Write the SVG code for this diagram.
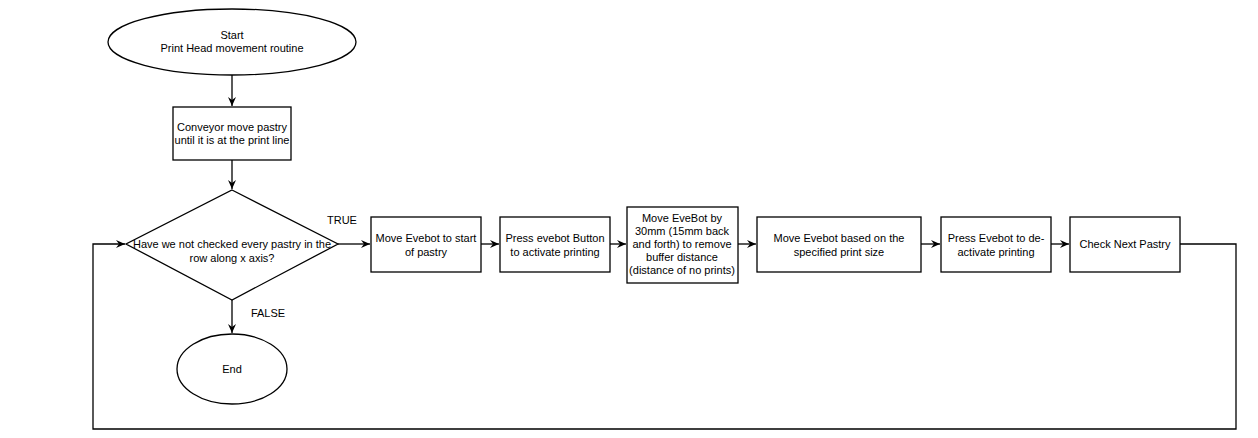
<svg xmlns="http://www.w3.org/2000/svg" width="1258" height="438" viewBox="0 0 1258 438">
<defs><marker id="a" markerWidth="10" markerHeight="10" refX="9" refY="5" orient="auto" markerUnits="userSpaceOnUse"><path d="M0,1 L9,5 L0,9 L3,5 Z" fill="#000"/></marker>
<style>.s{fill:#fff;stroke:#000;stroke-width:1.3}.t{font-family:"Liberation Sans",Arial,sans-serif;font-size:11px;text-anchor:middle}.c{fill:none;stroke:#000;stroke-width:1.3;marker-end:url(#a)}</style></defs>
<rect width="1258" height="438" fill="#fff"/>
<g id="connectors">
<path class="c" d="M232,75 V106"/>
<path class="c" d="M232,160 V189"/>
<path class="c" d="M338,244 H370"/>
<path class="c" d="M232,300 V333"/>
<path class="c" d="M481,244 H499"/>
<path class="c" d="M610,244 H626"/>
<path class="c" d="M738,244 H756"/>
<path class="c" d="M921,244 H940"/>
<path class="c" d="M1051,244 H1069"/>
<path class="c" d="M1180,244 H1236 V429 H93 V244 H125"/>
<text class="t" x="342" y="224">TRUE</text>
<text class="t" x="268" y="317">FALSE</text>
</g>
<g id="start"><ellipse class="s" cx="232" cy="42" rx="124" ry="33"/><text class="t" x="232" y="39">Start</text><text class="t" x="232" y="52">Print Head movement routine</text></g>
<g id="conveyor"><rect class="s" x="173" y="107" width="118" height="53"/><text class="t" x="232" y="131">Conveyor move pastry</text><text class="t" x="232" y="144">until it is at the print line</text></g>
<g id="decision"><path class="s" d="M232,190 L338,244 L232,300 L126,244 Z"/><text class="t" x="232" y="248">Have we not checked every pastry in the</text><text class="t" x="232" y="262">row along x axis?</text></g>
<g id="end"><ellipse class="s" cx="232" cy="369" rx="55" ry="35"/><text class="t" x="232" y="373">End</text></g>
<g id="n1"><rect class="s" x="371" y="217" width="110" height="55"/><text class="t" x="426" y="242">Move Evebot to start</text><text class="t" x="426" y="256">of pastry</text></g>
<g id="n2"><rect class="s" x="500" y="217" width="110" height="55"/><text class="t" x="555" y="242">Press evebot Button</text><text class="t" x="555" y="256">to activate printing</text></g>
<g id="n3"><rect class="s" x="627" y="207" width="111" height="76"/><text class="t" x="682" y="222">Move EveBot by</text><text class="t" x="682" y="235">30mm (15mm back</text><text class="t" x="682" y="248">and forth) to remove</text><text class="t" x="682" y="261">buffer distance</text><text class="t" x="682" y="274">(distance of no prints)</text></g>
<g id="n4"><rect class="s" x="757" y="217" width="164" height="55"/><text class="t" x="839" y="242">Move Evebot based on the</text><text class="t" x="839" y="256">specified print size</text></g>
<g id="n5"><rect class="s" x="941" y="217" width="110" height="55"/><text class="t" x="996" y="242">Press Evebot to de-</text><text class="t" x="996" y="256">activate printing</text></g>
<g id="n6"><rect class="s" x="1070" y="217" width="110" height="55"/><text class="t" x="1125" y="248">Check Next Pastry</text></g>
</svg>
